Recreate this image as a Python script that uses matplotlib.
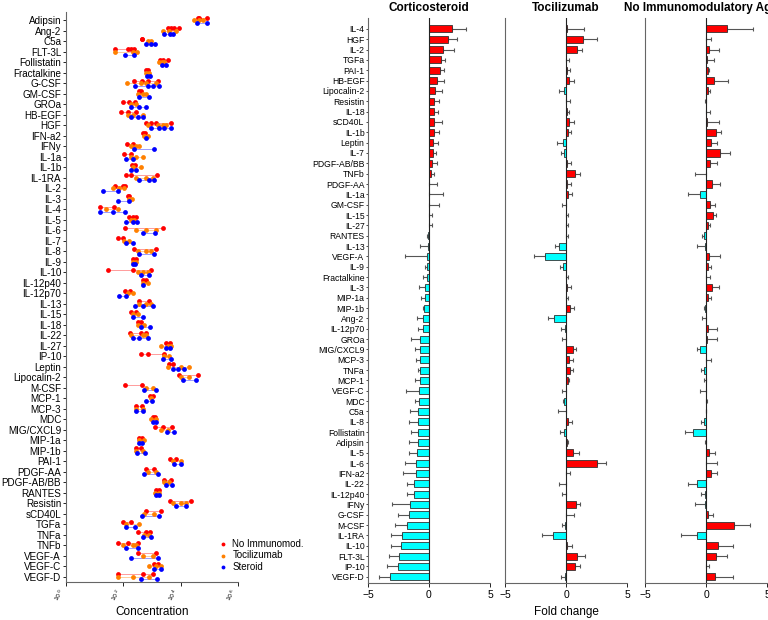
import numpy as np
import matplotlib
matplotlib.use('Agg')
import matplotlib.pyplot as plt

plt.rcParams['font.family'] = ['Liberation Sans', 'DejaVu Sans']

# ---- left panel: concentrations (log10), one list per patient group ----
cytokines = ['Adipsin', 'Ang-2', 'C5a', 'FLT-3L', 'Follistatin', 'Fractalkine', 'G-CSF',
             'GM-CSF', 'GROa', 'HB-EGF', 'HGF', 'IFN-a2', 'IFNy', 'IL-1a', 'IL-1b', 'IL-1RA',
             'IL-2', 'IL-3', 'IL-4', 'IL-5', 'IL-6', 'IL-7', 'IL-8', 'IL-9', 'IL-10',
             'IL-12p40', 'IL-12p70', 'IL-13', 'IL-15', 'IL-18', 'IL-22', 'IL-27', 'IP-10',
             'Leptin', 'Lipocalin-2', 'M-CSF', 'MCP-1', 'MCP-3', 'MDC', 'MIG/CXCL9', 'MIP-1a',
             'MIP-1b', 'PAI-1', 'PDGF-AA', 'PDGF-AB/BB', 'RANTES', 'Resistin', 'sCD40L',
             'TGFa', 'TNFa', 'TNFb', 'VEGF-A', 'VEGF-C', 'VEGF-D']

no_immuno = [[4.59, 4.91, 4.65], [3.55, 3.66, 3.78, 3.95], [2.65, 2.65], [1.72, 2.15, 2.27, 2.38],
             [3.29, 3.37, 3.57], [2.79, 2.87], [2.38, 2.65, 2.85, 3.20], [2.54, 2.62],
             [2.00, 2.21, 2.42], [1.92, 2.15, 2.44], [2.79, 2.97, 3.14, 3.66], [2.70, 2.77],
             [2.12, 2.33], [2.01, 2.27], [2.30, 2.42], [2.09, 2.27, 3.16],
             [1.72, 1.98, 2.07], [2.15, 2.20], [1.19, 1.69], [2.21, 2.33, 2.44],
             [2.07, 3.37], [1.80, 2.00], [2.38, 3.14], [2.33, 2.44], [1.45, 2.33, 2.97],
             [2.68, 2.79], [2.07, 2.23], [2.56, 2.88], [2.27, 2.44], [2.50, 2.62],
             [2.23, 2.62, 2.79], [3.49, 3.63], [2.62, 2.85, 3.43],
             [3.61, 3.74], [3.95, 4.59], [2.07, 2.65], [2.93, 3.02], [2.44, 2.65], [3.02, 3.12],
             [3.12, 3.40, 3.70], [2.54, 2.65], [2.44, 2.62], [3.63, 3.84], [2.79, 3.08],
             [3.43, 3.66], [3.14, 3.26], [3.63, 4.36], [2.79, 3.31],
             [2.00, 2.27], [2.50, 2.79, 2.93], [1.80, 2.15, 2.50], [2.50, 3.14], [3.08, 3.20],
             [1.80, 2.68, 3.02]]

tocilizumab = [[4.48, 4.65, 4.77], [3.40, 3.61, 3.84], [2.85, 2.97], [1.72, 2.33, 2.47],
               [3.26, 3.35, 3.43], [2.79, 2.91], [2.12, 2.62, 2.79, 3.14], [2.50, 2.68, 2.79],
               [2.27, 2.44], [2.15, 2.33, 2.68], [2.85, 3.20, 3.37, 3.49], [2.73, 2.85],
               [2.27, 2.44, 2.56], [2.27, 2.44, 2.68], [2.33, 2.62], [2.44, 2.79, 3.02],
               [1.63, 1.86, 2.04], [2.20, 2.30], [1.40, 1.80], [2.27, 2.38],
               [2.44, 2.79, 3.14], [2.04, 2.21], [2.50, 2.79, 2.97], [2.33, 2.44], [2.50, 2.68, 2.85],
               [2.68, 2.85], [2.15, 2.33], [2.56, 2.79, 2.97], [2.33, 2.50], [2.50, 2.73],
               [2.27, 2.68, 2.79], [3.31, 3.55, 3.66], [3.43, 3.61],
               [3.55, 4.01, 4.28], [4.01, 4.30], [2.79, 3.02], [2.97], [2.44, 2.68], [2.97, 3.14],
               [3.31, 3.55], [2.56, 2.73], [2.44, 2.68], [3.72, 4.01], [2.85, 3.14],
               [3.43, 3.61], [3.12, 3.26], [3.72, 4.01, 4.19], [2.73, 3.08],
               [2.09, 2.56], [2.73, 2.91], [1.98, 2.33, 2.44], [2.68, 3.02], [2.88, 3.14, 3.31],
               [1.80, 2.35, 2.91]]

steroid = [[4.56, 4.91], [3.43, 3.63, 3.72], [2.79, 2.97, 3.12], [2.07, 2.38],
           [3.34, 3.49], [2.83, 2.93], [2.42, 2.85, 3.02, 3.23], [2.56, 2.88],
           [2.27, 2.54, 2.79], [2.27, 2.50, 2.70], [2.97, 3.26, 3.43, 3.66], [2.79],
           [2.38, 3.08], [2.09, 2.33], [2.27, 2.44], [2.56, 2.91, 3.08],
           [1.30, 1.80], [1.80, 2.20], [1.19, 1.63, 2.07], [2.09, 2.33, 2.47],
           [2.68, 3.12], [2.09, 2.33], [2.56, 3.08], [2.33, 2.42], [2.62, 2.91],
           [2.70], [1.84, 2.09], [2.42, 2.70, 3.02], [2.33, 2.68], [2.62, 2.93],
           [2.33, 2.56, 2.85], [3.49, 3.63], [3.40, 3.66],
           [3.72, 3.90, 4.13], [4.07, 4.54], [2.73, 3.14], [2.79, 3.00], [2.44, 2.70], [3.05, 3.14],
           [3.51, 3.78], [2.54, 2.65], [2.47, 2.77], [3.78, 4.01], [2.73, 3.20],
           [3.49, 3.70], [3.14, 3.26], [3.84, 4.19], [2.65, 3.23],
           [2.09, 2.42], [2.70, 2.97], [2.09, 2.50], [2.27, 3.20], [3.08, 3.31],
           [2.62, 3.16]]

# ---- right panels: fold change (mean, error) ----
bar_order = ['IL-4', 'HGF', 'IL-2', 'TGFa', 'PAI-1', 'HB-EGF', 'Lipocalin-2', 'Resistin', 'IL-18',
             'sCD40L', 'IL-1b', 'Leptin', 'IL-7', 'PDGF-AB/BB', 'TNFb', 'PDGF-AA', 'IL-1a',
             'GM-CSF', 'IL-15', 'IL-27', 'RANTES', 'IL-13', 'VEGF-A', 'IL-9', 'Fractalkine',
             'IL-3', 'MIP-1a', 'MIP-1b', 'Ang-2', 'IL-12p70', 'GROa', 'MIG/CXCL9', 'MCP-3',
             'TNFa', 'MCP-1', 'VEGF-C', 'MDC', 'C5a', 'IL-8', 'Follistatin', 'Adipsin', 'IL-5',
             'IL-6', 'IFN-a2', 'IL-22', 'IL-12p40', 'IFNy', 'G-CSF', 'M-CSF', 'IL-1RA', 'IL-10',
             'FLT-3L', 'IP-10', 'VEGF-D']

cort_fc = [1.86, 1.53, 1.12, 0.96, 0.87, 0.63, 0.49, 0.44, 0.41, 0.41,
           0.41, 0.33, 0.33, 0.27, 0.14, 0.02, 0.01, 0.01, 0.02, 0.02,
           -0.08, -0.10, -0.14, -0.14, -0.20, -0.30, -0.30, -0.38, -0.52, -0.52,
           -0.70, -0.71, -0.71, -0.76, -0.76, -0.85, -0.85, -0.87, -0.87, -0.93,
           -0.93, -0.96, -1.04, -1.09, -1.20, -1.26, -1.53, -1.67, -1.78, -2.21,
           -2.32, -2.46, -2.57, -3.17]
cort_err = [1.15, 0.77, 0.93, 0.33, 0.33, 0.57, 0.55, 0.41, 0.36, 0.63,
            0.44, 0.44, 0.27, 0.41, 0.30, 0.60, 1.15, 0.84, 0.20, 0.25,
            0.11, 0.64, 1.86, 0.22, 0.32, 0.49, 0.38, 0.14, 0.49, 0.41,
            0.75, 0.46, 0.36, 0.11, 0.41, 1.06, 0.27, 0.66, 0.74, 0.55,
            0.74, 0.71, 0.90, 1.07, 0.58, 0.55, 1.47, 0.90, 1.01, 0.90,
            0.79, 0.79, 0.87, 0.90]

toci_fc = [0.11, 1.39, 0.87, 0.02, 0.11, 0.22, -0.14, 0.01, 0.11, 0.22,
           0.14, -0.22, -0.14, 0.11, 0.74, 0.05, 0.16, -0.02, 0.03, 0.03,
           0.02, -0.57, -1.72, -0.22, 0.01, 0.11, 0.01, 0.36, -0.98, -0.08,
           -0.03, 0.60, 0.27, 0.30, 0.14, -0.03, -0.14, -0.01, 0.14, -0.19,
           0.08, 0.60, 2.51, 0.02, -0.02, -0.03, 0.79, 0.02, -0.11, -1.07,
           0.11, 0.93, 0.77, -0.05]
toci_err = [1.39, 1.12, 0.44, 0.25, 0.22, 0.46, 0.43, 0.32, 0.14, 0.46,
            0.27, 0.49, 0.24, 0.30, 0.41, 0.33, 0.30, 0.28, 0.16, 0.16,
            0.12, 0.33, 0.90, 0.24, 0.18, 0.27, 0.18, 0.27, 0.47, 0.33,
            0.27, 0.19, 0.28, 0.25, 0.08, 0.27, 0.13, 0.65, 0.33, 0.27,
            0.06, 0.44, 0.74, 0.31, 0.58, 0.27, 0.38, 0.64, 0.19, 0.92,
            0.35, 0.65, 0.40, 0.36]

noim_fc = [1.72, 0.02, 0.25, 0.08, 0.16, 0.66, 0.16, -0.03, 0.02, 0.05,
           0.82, 0.44, 1.17, 0.33, -0.02, 0.52, -0.49, 0.33, 0.57, 0.16,
           -0.16, -0.08, 0.25, 0.19, 0.02, 0.49, 0.16, -0.10, -0.02, 0.14,
           0.11, -0.52, 0.02, -0.16, -0.02, -0.02, 0.02, 0.01, -0.16, -1.09,
           -0.02, 0.27, 0.02, 0.38, -0.74, -0.11, -0.11, 0.14, 2.32, -0.74,
           0.98, 0.82, 0.02, 0.74]
noim_err = [2.13, 0.36, 0.79, 0.60, 0.11, 1.12, 0.14, 0.05, 0.28, 0.99,
            0.38, 0.43, 0.77, 0.57, 0.91, 0.60, 0.99, 0.44, 0.22, 0.14,
            0.17, 0.69, 0.87, 0.25, 0.34, 0.55, 0.28, 0.09, 0.31, 0.79,
            0.76, 0.22, 0.39, 0.22, 0.17, 0.47, 0.05, 0.03, 0.22, 0.63,
            0.05, 0.44, 0.88, 0.49, 0.74, 0.27, 0.76, 0.46, 1.26, 1.31,
            1.21, 0.93, 0.20, 1.47]

W, H = 768, 620
fig = plt.figure(figsize=(W / 100, H / 100), dpi=100)

# ---------------- left: dot plot ----------------
ax = fig.add_axes([66 / W, 1 - 582 / H, 172 / W, 570 / H])
groups = [(no_immuno, '#ff0000', -0.25, 'No Immunomod.'),
          (tocilizumab, '#ff8000', 0.0, 'Tocilizumab'),
          (steroid, '#0000ff', 0.25, 'Steroid')]
for vals, col, off, lab in groups:
    for i, v in enumerate(vals):
        xs = 10 ** np.array(v)
        ys = np.full(len(xs), i + off)
        ax.plot([xs.min(), xs.max()], [i + off, i + off], color=col, lw=0.6, alpha=0.45)
        ax.scatter(xs, ys, s=12, color=col, linewidths=0, zorder=3,
                   label=lab if i == 0 else None)
ax.set_xscale('log')
ax.set_xlim(1, 1e6)
ax.set_ylim(53.5, -0.8)
ax.set_yticks(range(len(cytokines)))
ax.set_yticklabels(cytokines, fontsize=7.1)
ax.set_xticks([1, 1e2, 1e4, 1e6])
ax.set_xticklabels(['$10^{0}$', '$10^{2}$', '$10^{4}$', '$10^{6}$'], fontsize=4.5,
                   rotation=60, ha='right', va='top')
ax.xaxis.set_minor_locator(matplotlib.ticker.NullLocator())
ax.tick_params(axis='y', length=2.5, width=0.6, pad=1)
ax.tick_params(axis='x', length=3, width=0.6, pad=1)
for s in ['top', 'right']:
    ax.spines[s].set_visible(False)
for s in ['left', 'bottom']:
    ax.spines[s].set_color('#666666')
    ax.spines[s].set_linewidth(0.8)
ax.set_xlabel('Concentration', fontsize=8.5, labelpad=2)

fig.legend(loc='upper left', bbox_to_anchor=(212 / W, 1 - 534 / H), frameon=False,
           fontsize=7, handletextpad=0.4, labelspacing=0.15, borderpad=0, markerscale=0.8,
           handlelength=1.2)

# ---------------- right: fold-change bars ----------------
panels = [('Corticosteroid', cort_fc, cort_err, 368),
          ('Tocilizumab', toci_fc, toci_err, 505),
          ('No Immunomodulatory Agent', noim_fc, noim_err, 645)]
ypos = np.arange(len(bar_order))
for k, (title, fc, err, left) in enumerate(panels):
    bx = fig.add_axes([left / W, 1 - 583 / H, 122 / W, 565 / H])
    fc = np.array(fc)
    err = np.array(err)
    cols = ['#ff0000' if v >= 0 else '#00ffff' for v in fc]
    bx.barh(ypos, fc, height=0.68, color=cols, edgecolor='#333333', linewidth=0.6, zorder=2)
    lo = np.where(fc < 0, err, 0)
    hi = np.where(fc >= 0, err, 0)
    bx.errorbar(fc, ypos, xerr=[lo, hi], fmt='none', ecolor='#555555', elinewidth=0.8,
                capsize=1.6, capthick=0.8, zorder=1)
    bx.axvline(0, color='#222222', lw=0.8, zorder=3)
    bx.set_xlim(-5, 5)
    bx.set_ylim(53.6, -1.06)
    bx.set_xticks([-5, 0, 5])
    bx.tick_params(axis='x', labelsize=7.5, length=3, width=0.6, pad=2)
    if k == 0:
        bx.set_yticks(ypos)
        bx.set_yticklabels(bar_order, fontsize=6.2)
        bx.tick_params(axis='y', length=1.5, width=0.5, pad=1)
    else:
        bx.set_yticks([])
    for s in ['top', 'right']:
        bx.spines[s].set_visible(False)
    for s in ['left', 'bottom']:
        bx.spines[s].set_color('#666666')
        bx.spines[s].set_linewidth(0.8)
    bx.set_title(title, fontsize=8.5, fontweight='bold', pad=5)
    if k == 1:
        bx.set_xlabel('Fold change', fontsize=8.5, labelpad=4)

fig.savefig('out.png', dpi=100)
